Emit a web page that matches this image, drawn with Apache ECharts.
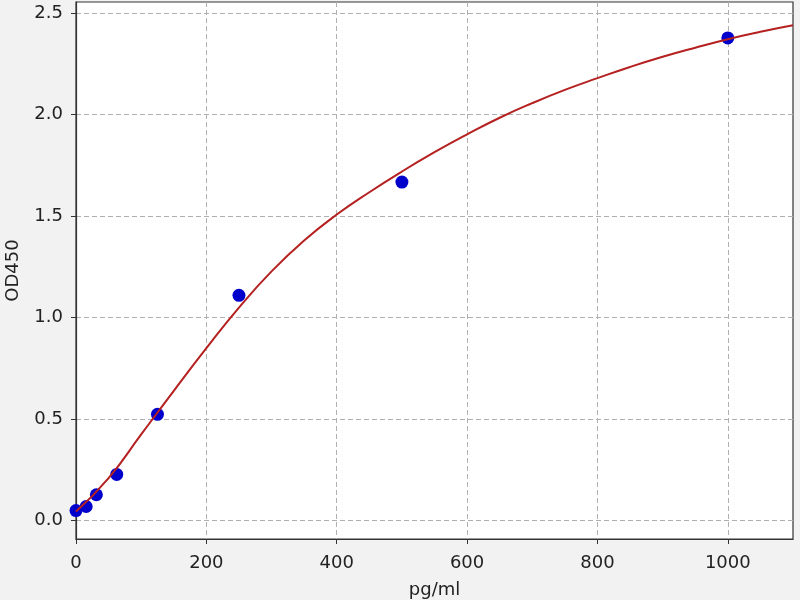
<!DOCTYPE html>
<html>
<head>
<meta charset="utf-8">
<script src="https://cdn.jsdelivr.net/npm/echarts@6/dist/echarts.min.js"></script>
<style>
  html, body { margin: 0; padding: 0; background: #f2f2f2; }
  #chart { width: 800px; height: 600px; }
</style>
</head>
<body>
<div id="chart"></div>
<script>
// standards measured (pg/ml vs OD450)
const stdConc = [0, 15.6, 31.25, 62.5, 125, 250, 500, 1000]
const stdOD = [0.05, 0.07, 0.128, 0.228, 0.524, 1.11, 1.668, 2.378]

// fitted curve, every 50 pg/ml
const curveX = [0, 50, 100, 150, 200, 250, 300, 350, 400, 450, 500, 550, 600, 650, 700, 750, 800, 850, 900, 950, 1000, 1050, 1100]
const curveY = [0.045, 0.21, 0.425, 0.64, 0.85, 1.05, 1.228, 1.38, 1.508, 1.618, 1.72, 1.815, 1.903, 1.985, 2.057, 2.122, 2.18, 2.235, 2.285, 2.33, 2.372, 2.408, 2.44]

const xTicks = [0, 200, 400, 600, 800, 1000]
const yTicks = [0, 0.5, 1.0, 1.5, 2.0, 2.5]

const chart = echarts.init(document.getElementById('chart'))

const axisText = { color: '#222', fontSize: 18, fontFamily: 'DejaVu Sans' }
const splitDash = { show: true, lineStyle: { color: '#b0b0b0', type: [5, 3], width: 1 } }

chart.setOption({
    backgroundColor: '#f2f2f2',
    animation: false,
    grid: {
        left: 76, right: 7, top: 2, bottom: 61,
        outerBoundsMode: 'none',
        show: true,
        backgroundColor: '#ffffff',
        borderColor: '#333',
        borderWidth: 1.2
    },
    xAxis: {
        type: 'value',
        min: 0,
        max: 1100,
        name: 'pg/ml',
        nameLocation: 'middle',
        nameGap: 42,
        nameTextStyle: axisText,
        axisLine: { show: true, onZero: false, lineStyle: { color: '#333', width: 1.2 } },
        axisTick: { show: true, length: 5, customValues: xTicks, lineStyle: { color: '#333' } },
        axisLabel: Object.assign({ margin: 15, customValues: xTicks, formatter: v => String(v) }, axisText),
        splitLine: splitDash
    },
    yAxis: {
        type: 'value',
        min: -0.09,
        max: 2.555,
        name: 'OD450',
        nameLocation: 'middle',
        nameGap: 54,
        nameTextStyle: axisText,
        axisLine: { show: true, onZero: false, lineStyle: { color: '#333', width: 1.2 } },
        axisTick: { show: true, length: 5, customValues: yTicks, lineStyle: { color: '#333' } },
        axisLabel: Object.assign({ margin: 13, customValues: yTicks, formatter: v => v.toFixed(1) }, axisText),
        splitLine: splitDash
    },
    series: [
        {
            name: 'standards',
            type: 'scatter',
            data: stdConc.map((c, i) => [c, stdOD[i]]),
            symbolSize: 13,
            itemStyle: { color: '#0000cc', opacity: 1 },
            z: 2
        },
        {
            name: 'fit',
            type: 'line',
            data: curveX.map((c, i) => [c, curveY[i]]),
            smooth: true,
            showSymbol: false,
            symbol: 'none',
            lineStyle: { color: '#b52020', width: 2 },
            z: 3
        }
    ]
})
</script>
</body>
</html>
